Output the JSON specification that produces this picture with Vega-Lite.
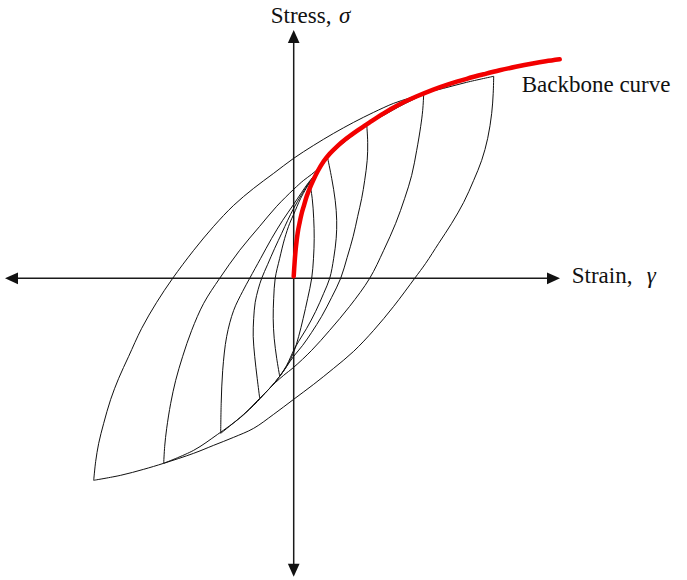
{
  "$schema": "https://vega.github.io/schema/vega-lite/v6.json",
  "width": 687,
  "height": 580,
  "padding": 0,
  "autosize": {"type": "none"},
  "background": "white",
  "config": {"view": {"stroke": null}},
  "datasets": {
    "loops": [
      {"s":"A1","i":0,"u":-200,"v":-202},{"s":"A1","i":1,"u":-198,"v":-183},{"s":"A1","i":2,"u":-195,"v":-165},{"s":"A1","i":3,"u":-190,"v":-145},{"s":"A1","i":4,"u":-183,"v":-121},{"s":"A1","i":5,"u":-175,"v":-100},{"s":"A1","i":6,"u":-165,"v":-78},{"s":"A1","i":7,"u":-152,"v":-50},{"s":"A1","i":8,"u":-137,"v":-24},{"s":"A1","i":9,"u":-121,"v":0},{"s":"A1","i":10,"u":-100,"v":28},{"s":"A1","i":11,"u":-80,"v":52},{"s":"A1","i":12,"u":-60,"v":73},{"s":"A1","i":13,"u":-40,"v":90},{"s":"A1","i":14,"u":-20,"v":105},{"s":"A1","i":15,"u":0,"v":120},{"s":"A1","i":16,"u":20,"v":133},{"s":"A1","i":17,"u":40,"v":145},{"s":"A1","i":18,"u":60,"v":156},{"s":"A1","i":19,"u":80,"v":166},{"s":"A1","i":20,"u":100,"v":175},{"s":"A1","i":21,"u":115,"v":180},{"s":"A1","i":22,"u":130,"v":185},{"s":"A1","i":23,"u":150,"v":190},{"s":"A1","i":24,"u":173,"v":196},{"s":"A1","i":25,"u":200,"v":202},
      {"s":"A2","i":0,"u":200,"v":202},{"s":"A2","i":1,"u":199.5,"v":185},{"s":"A2","i":2,"u":198,"v":165},{"s":"A2","i":3,"u":194,"v":140},{"s":"A2","i":4,"u":188,"v":118},{"s":"A2","i":5,"u":180,"v":98},{"s":"A2","i":6,"u":170,"v":76},{"s":"A2","i":7,"u":158,"v":55},{"s":"A2","i":8,"u":145,"v":35},{"s":"A2","i":9,"u":132,"v":15},{"s":"A2","i":10,"u":121,"v":0},{"s":"A2","i":11,"u":100,"v":-28},{"s":"A2","i":12,"u":80,"v":-52},{"s":"A2","i":13,"u":60,"v":-73},{"s":"A2","i":14,"u":40,"v":-90},{"s":"A2","i":15,"u":20,"v":-106},{"s":"A2","i":16,"u":0,"v":-121},{"s":"A2","i":17,"u":-20,"v":-136},{"s":"A2","i":18,"u":-40,"v":-150},{"s":"A2","i":19,"u":-60,"v":-159},{"s":"A2","i":20,"u":-80,"v":-167},{"s":"A2","i":21,"u":-100,"v":-175},{"s":"A2","i":22,"u":-130,"v":-185},{"s":"A2","i":23,"u":-150,"v":-191},{"s":"A2","i":24,"u":-173,"v":-197},{"s":"A2","i":25,"u":-200,"v":-202},
      {"s":"B1","i":0,"u":-130,"v":-185},{"s":"B1","i":1,"u":-129,"v":-168},{"s":"B1","i":2,"u":-127,"v":-150},{"s":"B1","i":3,"u":-123,"v":-125},{"s":"B1","i":4,"u":-118,"v":-102},{"s":"B1","i":5,"u":-111,"v":-78},{"s":"B1","i":6,"u":-102,"v":-52},{"s":"B1","i":7,"u":-90,"v":-25},{"s":"B1","i":8,"u":-74,"v":0},{"s":"B1","i":9,"u":-54,"v":28},{"s":"B1","i":10,"u":-34,"v":52},{"s":"B1","i":11,"u":-17,"v":72},{"s":"B1","i":12,"u":0,"v":89},{"s":"B1","i":13,"u":10,"v":98},{"s":"B1","i":14,"u":18,"v":104},{"s":"B1","i":15,"u":26,"v":111},{"s":"B1","i":16,"u":36,"v":123},{"s":"B1","i":17,"u":53,"v":138},{"s":"B1","i":18,"u":76,"v":155},{"s":"B1","i":19,"u":90,"v":163},{"s":"B1","i":20,"u":106,"v":172},{"s":"B1","i":21,"u":118,"v":178},{"s":"B1","i":22,"u":130,"v":184},
      {"s":"B2","i":0,"u":130,"v":184},{"s":"B2","i":1,"u":129,"v":168},{"s":"B2","i":2,"u":127,"v":152},{"s":"B2","i":3,"u":123,"v":128},{"s":"B2","i":4,"u":118,"v":103},{"s":"B2","i":5,"u":111,"v":80},{"s":"B2","i":6,"u":102,"v":55},{"s":"B2","i":7,"u":90,"v":28},{"s":"B2","i":8,"u":76,"v":0},{"s":"B2","i":9,"u":56,"v":-28},{"s":"B2","i":10,"u":36,"v":-52},{"s":"B2","i":11,"u":18,"v":-72},{"s":"B2","i":12,"u":0,"v":-89},{"s":"B2","i":13,"u":-10,"v":-97},{"s":"B2","i":14,"u":-18,"v":-104},{"s":"B2","i":15,"u":-26,"v":-112},{"s":"B2","i":16,"u":-36,"v":-123},{"s":"B2","i":17,"u":-53,"v":-139},{"s":"B2","i":18,"u":-76,"v":-156},{"s":"B2","i":19,"u":-100,"v":-172},{"s":"B2","i":20,"u":-130,"v":-185},
      {"s":"C1","i":0,"u":-73,"v":-155},{"s":"C1","i":1,"u":-72.5,"v":-125},{"s":"C1","i":2,"u":-71,"v":-92},{"s":"C1","i":3,"u":-67,"v":-58},{"s":"C1","i":4,"u":-60,"v":-32},{"s":"C1","i":5,"u":-51,"v":-13},{"s":"C1","i":6,"u":-44,"v":0},{"s":"C1","i":7,"u":-33,"v":20},{"s":"C1","i":8,"u":-22,"v":40},{"s":"C1","i":9,"u":-11,"v":58},{"s":"C1","i":10,"u":0,"v":74},{"s":"C1","i":11,"u":8,"v":86},{"s":"C1","i":12,"u":15,"v":96},{"s":"C1","i":13,"u":24,"v":107},{"s":"C1","i":14,"u":36,"v":124},{"s":"C1","i":15,"u":53,"v":139},{"s":"C1","i":16,"u":73,"v":154},
      {"s":"C2","i":0,"u":73,"v":154},{"s":"C2","i":1,"u":74,"v":136},{"s":"C2","i":2,"u":73.5,"v":118},{"s":"C2","i":3,"u":71,"v":98},{"s":"C2","i":4,"u":68,"v":80},{"s":"C2","i":5,"u":64,"v":62},{"s":"C2","i":6,"u":59.5,"v":42},{"s":"C2","i":7,"u":53.5,"v":21},{"s":"C2","i":8,"u":47,"v":0},{"s":"C2","i":9,"u":38,"v":-19},{"s":"C2","i":10,"u":28,"v":-38},{"s":"C2","i":11,"u":18,"v":-54},{"s":"C2","i":12,"u":9,"v":-67},{"s":"C2","i":13,"u":0,"v":-78},{"s":"C2","i":14,"u":-7,"v":-88},{"s":"C2","i":15,"u":-14,"v":-98},{"s":"C2","i":16,"u":-24,"v":-110},{"s":"C2","i":17,"u":-34,"v":-120},{"s":"C2","i":18,"u":-50,"v":-136},{"s":"C2","i":19,"u":-73,"v":-155},
      {"s":"D1","i":0,"u":-34,"v":-120},{"s":"D1","i":1,"u":-36.5,"v":-100},{"s":"D1","i":2,"u":-39,"v":-78},{"s":"D1","i":3,"u":-40.5,"v":-58},{"s":"D1","i":4,"u":-40,"v":-40},{"s":"D1","i":5,"u":-38.5,"v":-24},{"s":"D1","i":6,"u":-35.5,"v":-11},{"s":"D1","i":7,"u":-32,"v":0},{"s":"D1","i":8,"u":-26,"v":14},{"s":"D1","i":9,"u":-19,"v":30},{"s":"D1","i":10,"u":-12,"v":45},{"s":"D1","i":11,"u":-6,"v":58},{"s":"D1","i":12,"u":0,"v":70},{"s":"D1","i":13,"u":8,"v":84},{"s":"D1","i":14,"u":15,"v":95},{"s":"D1","i":15,"u":24,"v":107},{"s":"D1","i":16,"u":34,"v":120},
      {"s":"D2","i":0,"u":34,"v":120},{"s":"D2","i":1,"u":38,"v":100},{"s":"D2","i":2,"u":41.5,"v":78},{"s":"D2","i":3,"u":43,"v":58},{"s":"D2","i":4,"u":42.5,"v":40},{"s":"D2","i":5,"u":40,"v":20},{"s":"D2","i":6,"u":36,"v":0},{"s":"D2","i":7,"u":30,"v":-15},{"s":"D2","i":8,"u":22,"v":-33},{"s":"D2","i":9,"u":13,"v":-50},{"s":"D2","i":10,"u":5,"v":-63},{"s":"D2","i":11,"u":0,"v":-72},{"s":"D2","i":12,"u":-7,"v":-87},{"s":"D2","i":13,"u":-14,"v":-98},{"s":"D2","i":14,"u":-24,"v":-110},{"s":"D2","i":15,"u":-34,"v":-120},
      {"s":"E1","i":0,"u":-14,"v":-98},{"s":"E1","i":1,"u":-17,"v":-80},{"s":"E1","i":2,"u":-19.5,"v":-60},{"s":"E1","i":3,"u":-20.5,"v":-40},{"s":"E1","i":4,"u":-20,"v":-20},{"s":"E1","i":5,"u":-18.5,"v":0},{"s":"E1","i":6,"u":-14,"v":20},{"s":"E1","i":7,"u":-9,"v":40},{"s":"E1","i":8,"u":-4,"v":55},{"s":"E1","i":9,"u":0,"v":64},{"s":"E1","i":10,"u":7,"v":80},{"s":"E1","i":11,"u":16,"v":96},
      {"s":"E2","i":0,"u":16,"v":96},{"s":"E2","i":1,"u":18.5,"v":80},{"s":"E2","i":2,"u":20,"v":60},{"s":"E2","i":3,"u":20.5,"v":40},{"s":"E2","i":4,"u":19.8,"v":20},{"s":"E2","i":5,"u":18,"v":0},{"s":"E2","i":6,"u":14,"v":-20},{"s":"E2","i":7,"u":9.5,"v":-40},{"s":"E2","i":8,"u":5,"v":-58},{"s":"E2","i":9,"u":0,"v":-74},{"s":"E2","i":10,"u":-7,"v":-88},{"s":"E2","i":11,"u":-14,"v":-98}
    ],
    "backbone": [
      {"u":0,"v":2},{"u":0.5,"v":10},{"u":1,"v":17},{"u":2,"v":29},{"u":3,"v":38},{"u":4,"v":45.5},{"u":6,"v":56},{"u":8,"v":65},{"u":10,"v":72},{"u":13,"v":82},{"u":16,"v":90},{"u":20,"v":99},{"u":24,"v":107},{"u":30,"v":117},{"u":36,"v":124.5},{"u":44,"v":132.5},{"u":53,"v":140},{"u":64,"v":148},{"u":76,"v":156},{"u":90,"v":165},{"u":106,"v":174},{"u":122,"v":181.5},{"u":139,"v":188.5},{"u":156,"v":194.5},{"u":173,"v":199.5},{"u":190,"v":204},{"u":206,"v":208},{"u":222,"v":211.5},{"u":239,"v":214.8},{"u":252,"v":217},{"u":266,"v":219}
    ],
    "axes": [
      {"u":-283,"v":0,"u2":261,"v2":0},
      {"u":0,"v":-292,"u2":0,"v2":243}
    ],
    "heads": [
      {"dir":"up","u":0,"v":241.8},
      {"dir":"down","u":0,"v":-291.9},
      {"dir":"right","u":259.8,"v":0},
      {"dir":"left","u":-282.2,"v":0}
    ],
    "labels": [
      {"t":"Stress,","u":-23,"v":255.6},
      {"t":"Strain,","u":278,"v":-5},
      {"t":"Backbone curve","u":228,"v":186.6}
    ],
    "symbols": [
      {"t":"σ","u":45.3,"v":255.6},
      {"t":"γ","u":353,"v":-5}
    ]
  },
  "encoding": {
    "x": {"field":"u","type":"quantitative","axis":null,"scale":{"domain":[-293.7,393.3],"nice":false,"zero":false}},
    "y": {"field":"v","type":"quantitative","axis":null,"scale":{"domain":[-301.7,278.3],"nice":false,"zero":false}}
  },
  "layer": [
    {
      "data": {"name":"axes"},
      "mark": {"type":"rule","color":"#1a1a1a","strokeWidth":1.5},
      "encoding": {"x2":{"field":"u2"},"y2":{"field":"v2"}}
    },
    {
      "data": {"name":"heads"},
      "mark": {"type":"point","filled":true,"color":"#111","opacity":1,"size":169,"strokeWidth":0},
      "encoding": {
        "shape": {"field":"dir","type":"nominal","legend":null,
          "scale":{"domain":["up","down","right","left"],
            "range":["M0,-1L-0.9,1L0.9,1Z","M0,1L-0.9,-1L0.9,-1Z","M1,0L-1,-0.9L-1,0.9Z","M-1,0L1,-0.9L1,0.9Z"]}}
      }
    },
    {
      "data": {"name":"loops"},
      "mark": {"type":"line","color":"#111","strokeWidth":1,"interpolate":"catmull-rom"},
      "encoding": {"detail":{"field":"s"},"order":{"field":"i","type":"quantitative"}}
    },
    {
      "data": {"name":"backbone"},
      "mark": {"type":"line","color":"#f20000","strokeWidth":4.5,"interpolate":"monotone","strokeCap":"round"},
      "encoding": {}
    },
    {
      "data": {"name":"labels"},
      "mark": {"type":"text","align":"left","baseline":"alphabetic","font":"Liberation Serif","fontSize":23,"color":"#111"},
      "encoding": {"text":{"field":"t"}}
    },
    {
      "data": {"name":"symbols"},
      "mark": {"type":"text","align":"left","baseline":"alphabetic","font":"Liberation Serif","fontSize":23,"fontStyle":"italic","color":"#111"},
      "encoding": {"text":{"field":"t"}}
    }
  ]
}
